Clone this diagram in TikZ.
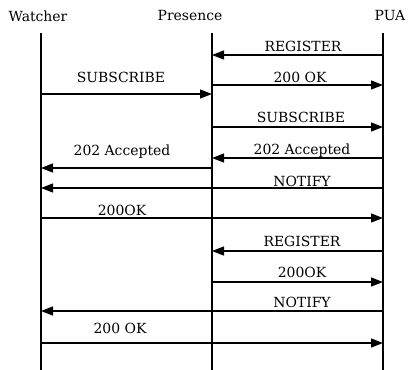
\documentclass[tikz,border=0pt]{standalone}
\usepackage{fontspec}
\setmainfont{DejaVu Serif}
\usepackage{tikz}
\usetikzlibrary{arrows.meta}
\tikzset{head/.style = {font = \fontsize{14}{16}\selectfont, inner sep = 0pt}}
\tikzset{lbl/.style = {font = \fontsize{14}{16}\selectfont, inner sep = 0pt}}
\tikzset{life/.style = {-, line width = 1.1bp}}
\tikzset{msg/.style = {-{Triangle[length = 12bp, width = 9bp]}, line width = 1.3bp}}

\begin{document}
\begin{tikzpicture}[x = 1bp, y = -1bp]
			\useasboundingbox (0, 0) rectangle (409, 370);

			\node[head] (watcher) at (38, 16) {Watcher};
			\node[head] (presence) at (190, 16) {Presence};
			\node[head] (pua) at (390, 16) {PUA};

			\coordinate (w) at (41, 33);
			\coordinate (p) at (212, 33);
			\coordinate (u) at (383, 33);
			\coordinate (wb) at (41, 370);
			\coordinate (pb) at (212, 370);
			\coordinate (ub) at (383, 370);

			\draw[life] (w) to (wb);
			\draw[life] (p) to (pb);
			\draw[life] (u) to (ub);

			\coordinate (m1) at (0, 55);
			\coordinate (m2) at (0, 85);
			\coordinate (m3) at (0, 94);
			\coordinate (m4) at (0, 127);
			\coordinate (m5) at (0, 158);
			\coordinate (m6) at (0, 168);
			\coordinate (m7) at (0, 188);
			\coordinate (m8) at (0, 218);
			\coordinate (m9) at (0, 251);
			\coordinate (m10) at (0, 282);
			\coordinate (m11) at (0, 311);
			\coordinate (m12) at (0, 343);

			\draw[msg] (u |- m1) to (p |- m1);
			\draw[msg] (p |- m2) to (u |- m2);
			\draw[msg] (w |- m3) to (p |- m3);
			\draw[msg] (p |- m4) to (u |- m4);
			\draw[msg] (u |- m5) to (p |- m5);
			\draw[msg] (p |- m6) to (w |- m6);
			\draw[msg] (u |- m7) to (w |- m7);
			\draw[msg] (w |- m8) to (u |- m8);
			\draw[msg] (u |- m9) to (p |- m9);
			\draw[msg] (p |- m10) to (u |- m10);
			\draw[msg] (u |- m11) to (w |- m11);
			\draw[msg] (w |- m12) to (u |- m12);

			\node[lbl] (l1) at (303, 46) {REGISTER};
			\node[lbl] (l2) at (300, 77) {200 OK};
			\node[lbl] (l3) at (121, 77) {SUBSCRIBE};
			\node[lbl] (l4) at (301, 117) {SUBSCRIBE};
			\node[lbl] (l5) at (302, 151) {202 Accepted};
			\node[lbl] (l6) at (122, 152) {202 Accepted};
			\node[lbl] (l7) at (302, 181) {NOTIFY};
			\node[lbl] (l8) at (122, 210) {200OK};
			\node[lbl] (l9) at (302, 241) {REGISTER};
			\node[lbl] (l10) at (302, 272) {200OK};
			\node[lbl] (l11) at (302, 302) {NOTIFY};
			\node[lbl] (l12) at (120, 328) {200 OK};
		\end{tikzpicture}
\end{document}
